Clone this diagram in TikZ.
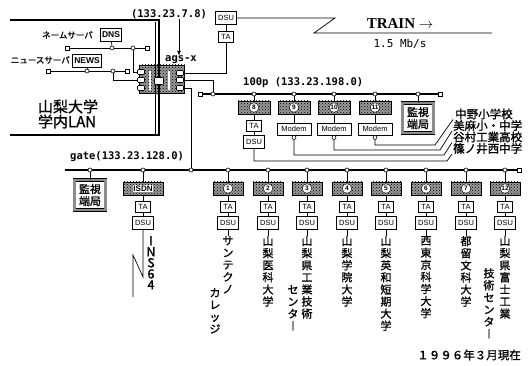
\documentclass[tikz,border=0pt]{standalone}
\usepackage{fontspec}
\setmainfont{Liberation Sans}
\newfontfamily\cjk[FakeBold=1.2]{Noto Sans CJK JP}
\newfontfamily\mono{DejaVu Sans Mono}
\newfontfamily\serifb{Liberation Serif}
\usepackage{tikz}
\usetikzlibrary{patterns, arrows.meta}

\begin{document}
\begin{tikzpicture}[x=1pt, y=-1pt,
    box/.style={draw, fill=white, line width=0.7pt, inner sep=0pt, font=\fontsize{7.5}{8}\selectfont},
    dsu/.style={box, minimum width=21pt, minimum height=13pt},
    ta/.style={box, minimum width=15pt, minimum height=11pt},
    modem/.style={box, minimum width=34pt, minimum height=12pt},
    srv/.style={box, line width=1pt, font=\bfseries\fontsize{8.5}{9}\selectfont, minimum height=13pt, inner xsep=2pt},
    hbox/.style={draw, line width=0.8pt, preaction={fill=black!40}, pattern=crosshatch dots, minimum width=30pt, minimum height=13pt, inner sep=0pt},
    cnum/.style={circle, draw, fill=white, inner sep=0pt, minimum size=9.5pt, font=\bfseries\fontsize{6.5}{7}\selectfont},
    mon/.style={draw, double=black!45, double distance=2.5pt, line width=0.6pt, fill=white, align=center, inner sep=1pt, minimum width=31pt, minimum height=30pt, font=\cjk\fontsize{11}{12}\selectfont},
    jn/.style={circle, draw, fill=white, inner sep=0pt, minimum size=4pt, line width=0.6pt},
    term/.style={rectangle, draw, fill=white, inner sep=0pt, minimum size=4pt, line width=0.6pt},
    port/.style={rectangle, rounded corners=1pt, draw, fill=white, inner sep=0pt, minimum width=7pt, minimum height=5pt, line width=0.6pt},
    bus/.style={line width=1.8pt},
    wire/.style={line width=0.7pt},
    addr/.style={font=\mono\bfseries\fontsize{10.5}{11}\selectfont, inner sep=0pt},
    vtext/.style={font=\cjk\fontsize{11}{12.1}\selectfont, align=center, inner sep=0pt, anchor=north},
    school/.style={font=\cjk\fontsize{11.5}{12}\selectfont, inner sep=0pt, anchor=west}
]
    \useasboundingbox (0,0) rectangle (530,366);

    % campus LAN
    \node[hbox, minimum width=45pt, minimum height=28pt] at (162,79) (rtr) {};
    \draw[white, line width=1.2pt] (150,71) -- (150,90) (169,71) -- (169,90);
    \draw[line width=1.1pt] (10,20) -- (159,20) -- (159,135) -- (10,135);
    \draw[line width=0.6pt] (155,22) -- (155,135);
    \node[port, minimum width=9pt, minimum height=7pt] at (159,81) (rc) {};
    \node[port] at (141,72) (rl1) {};
    \node[port] at (141,80) (rl2) {};
    \node[port] at (141,88) (rl3) {};
    \node[port] at (180,73) (rr1) {};
    \node[port] at (180,80) (rr2) {};
    \node[port] at (180,88) (rr3) {};
    \node[font=\cjk\fontsize{15}{15}\selectfont, align=left, inner sep=0pt] at (68,114) (lan) {山梨大学\\学内LAN};

    \draw[wire] (67,48) -- (147,48);
    \node[term] at (67,48) (d0) {};
    \node[term] at (147,48) (d3) {};
    \node[jn] at (112,48) (d1) {};
    \node[jn] at (133,48) (d2) {};
    \node[srv] at (111,35) (dns) {DNS};
    \node[font=\cjk\fontsize{8.5}{9}\selectfont, anchor=east, inner sep=0pt] at (93,35) (dnsl) {ネームサーバ};
    \draw[wire] (d1) -- (dns);
    \draw[wire] (d2) |- (rl1);

    \draw[wire] (48,71) -- (127,71);
    \node[term] at (48,71) (n0) {};
    \node[term] at (127,71) (n3) {};
    \node[jn] at (87,71) (n1) {};
    \node[jn] at (113,71) (n2) {};
    \node[srv] at (87,61) (news) {NEWS};
    \node[font=\cjk\fontsize{8.5}{9}\selectfont, anchor=east, inner sep=0pt] at (70,60) (newsl) {ニュースサーバ};
    \draw[wire] (n1) -- (news);
    \draw[wire] (n2) |- (rl2);

    % external line
    \node[addr] at (169,14) (ip7) {(133.23.7.8)};
    \node[addr] at (181,60) (ags) {ags-x};
    \draw[wire, -{Latex[length=5pt, width=4pt]}] ([xshift=-2pt]ip7.south -| ags.north) -- ([xshift=-2pt]ags.north);
    \node[dsu] at (226,18) (dsuT) {DSU};
    \node[ta] at (226,37) (taT) {TA};
    \draw[wire] (dsuT) -- (taT);
    \draw[wire] (taT) |- (rr1);
    \coordinate (trEnd) at (492,33);
    \draw[wire] (dsuT.east) -- (335,18) -- (314,33) -- (trEnd);
    \node[font=\serifb\bfseries\fontsize{15}{15}\selectfont, anchor=south, inner sep=1pt] at (400,30) (train) {TRAIN $\rightarrow$};
    \node[font=\mono\fontsize{11}{11}\selectfont, inner sep=0pt] at (400,44) (rate) {1.5 Mb/s};

    % 100p network
    \draw[bus] (200,94) -- (440,94);
    \node[term] at (200,94) (t1) {};
    \node[term] at (440,94) (t2) {};
    \node[jn] at (213,94) (p0) {};
    \draw[wire] (rr2) -| (p0);
    \node[addr, anchor=west] at (243,83) (net100) {100p (133.23.198.0)};

    \node[jn] at (254,94) (p8) {};
    \node[jn] at (294,94) (p9) {};
    \node[jn] at (334,94) (p10) {};
    \node[jn] at (375,94) (p11) {};
    \node[jn] at (418,94) (pm) {};
    \node[hbox, minimum width=32pt] at (254,107.5) (h8) {};
    \node[hbox, minimum width=32pt] at (294,107.5) (h9) {};
    \node[hbox, minimum width=32pt] at (334,107.5) (h10) {};
    \node[hbox, minimum width=32pt] at (375,107.5) (h11) {};
    \node[cnum] at (h8) {8};
    \node[cnum] at (h9) {9};
    \node[cnum] at (h10) {10};
    \node[cnum] at (h11) {11};
    \node[mon] at (418,118) (mon1) {監視\\端局};
    \node[ta] at (254,126) (ta8) {TA};
    \node[dsu] at (254,142) (dsu8) {DSU};
    \node[modem] at (294,129) (m9) {Modem};
    \node[modem] at (334,129) (m10) {Modem};
    \node[modem] at (375,129) (m11) {Modem};
    \node[jn] at (294,137.5) (q9) {};
    \node[jn] at (334,137.5) (q10) {};
    \node[jn] at (375,137.5) (q11) {};
    \draw[wire] (p8) -- (h8) -- (ta8) -- (dsu8);
    \draw[wire] (p9) -- (h9) -- (m9);
    \draw[wire] (p10) -- (h10) -- (m10);
    \draw[wire] (p11) -- (h11) -- (m11);
    \draw[wire] (pm) -- (mon1);

    \node[school] at (455,114) (sc1) {中野小学校};
    \node[school] at (453,125.5) (sc2) {美麻小・中学};
    \node[school] at (453,137) (sc3) {谷村工業高校};
    \node[school] at (453,148.5) (sc4) {篠ノ井西中学};
    \draw[wire] (q11) |- (435,145) -- ([xshift=-2pt]sc1.south west);
    \draw[wire] (q10) |- (440,150) -- ([xshift=-1pt]sc2.south west);
    \draw[wire] (q9) |- (444,155) -- ([xshift=-1pt]sc3.south west);
    \draw[wire] (dsu8) |- (447,161) -- ([xshift=-1pt]sc4.south west);

    % gate network
    \draw[bus] (65,170) -- (519,170);
    \node[term] at (519,170) (t3) {};
    \node[addr, anchor=west] at (70,157) (gate) {gate(133.23.128.0)};
    \node[jn] at (191,170) (g0) {};
    \draw[wire] (rr3) -| (g0);

    \node[jn] at (90,170) (gm) {};
    \node[mon] at (90,195) (mon2) {監視\\端局};
    \draw[wire] (gm) -- (mon2);

    \node[jn] at (143,170) (gi) {};
    \node[hbox, minimum width=40pt] at (143,188.5) (isdn) {};
    \node[fill=white, inner sep=0.6pt, font=\bfseries\fontsize{8}{8}\selectfont] at (isdn) {ISDN};
    \node[ta] at (143,206.5) (taI) {TA};
    \node[dsu] at (143,222.5) (dsuI) {DSU};
    \draw[wire] (gi) -- (isdn) -- (taI) -- (dsuI);
    \coordinate (insEnd) at (133,297);
    \draw[wire] (dsuI) -- (143,277) -- (133,255) -- (insEnd);
    \node[vtext, font=\cjk\fontsize{12.5}{11}\selectfont] at (151,236) (ins) {I\\N\\S\\6\\4};

    \node[jn] at (228,170) (g1) {};
    \node[jn] at (268,170) (g2) {};
    \node[jn] at (307,170) (g3) {};
    \node[jn] at (347,170) (g4) {};
    \node[jn] at (386,170) (g5) {};
    \node[jn] at (426,170) (g6) {};
    \node[jn] at (466,170) (g7) {};
    \node[jn] at (505,170) (g12) {};
    \node[hbox] at (228,188.5) (h1) {};
    \node[hbox] at (268,188.5) (h2) {};
    \node[hbox] at (307,188.5) (h3) {};
    \node[hbox] at (347,188.5) (h4) {};
    \node[hbox] at (386,188.5) (h5) {};
    \node[hbox] at (426,188.5) (h6) {};
    \node[hbox] at (466,188.5) (h7) {};
    \node[hbox] at (505,188.5) (h12) {};
    \node[cnum] at (h1) {1};
    \node[cnum] at (h2) {2};
    \node[cnum] at (h3) {3};
    \node[cnum] at (h4) {4};
    \node[cnum] at (h5) {5};
    \node[cnum] at (h6) {6};
    \node[cnum] at (h7) {7};
    \node[cnum] at (h12) {12};
    \node[ta] at (228,206.5) (ta1) {TA};
    \node[ta] at (268,206.5) (ta2) {TA};
    \node[ta] at (307,206.5) (ta3) {TA};
    \node[ta] at (347,206.5) (ta4) {TA};
    \node[ta] at (386,206.5) (ta5) {TA};
    \node[ta] at (426,206.5) (ta6) {TA};
    \node[ta] at (466,206.5) (ta7) {TA};
    \node[ta] at (505,206.5) (ta12) {TA};
    \node[dsu] at (228,222.5) (dsu1) {DSU};
    \node[dsu] at (268,222.5) (dsu2) {DSU};
    \node[dsu] at (307,222.5) (dsu3) {DSU};
    \node[dsu] at (347,222.5) (dsu4) {DSU};
    \node[dsu] at (386,222.5) (dsu5) {DSU};
    \node[dsu] at (426,222.5) (dsu6) {DSU};
    \node[dsu] at (466,222.5) (dsu7) {DSU};
    \node[dsu] at (505,222.5) (dsu12) {DSU};

    \node[vtext] at (228,236) (v1) {サ\\ン\\テ\\ク\\ノ};
    \node[vtext] at (215,288) (v1b) {カ\\レ\\ッ\\ジ};
    \node[vtext] at (268,236) (v2) {山\\梨\\医\\科\\大\\学};
    \node[vtext] at (307,236) (v3) {山\\梨\\県\\工\\業\\技\\術};
    \node[vtext] at (293,285) (v3b) {セ\\ン\\タ\\︱};
    \node[vtext] at (347,236) (v4) {山\\梨\\学\\院\\大\\学};
    \node[vtext] at (386,236) (v5) {山\\梨\\英\\和\\短\\期\\大\\学};
    \node[vtext] at (426,236) (v6) {西\\東\\京\\科\\学\\大\\学};
    \node[vtext] at (466,236) (v7) {都\\留\\文\\科\\大\\学};
    \node[vtext] at (505,236) (v12) {山\\梨\\県\\富\\士\\工\\業};
    \node[vtext] at (489,268) (v12b) {技\\術\\セ\\ン\\タ\\︱};

    \draw[wire] (g1) -- (h1) -- (ta1) -- (dsu1) -- (v1);
    \draw[wire] (g2) -- (h2) -- (ta2) -- (dsu2) -- (v2);
    \draw[wire] (g3) -- (h3) -- (ta3) -- (dsu3) -- (v3);
    \draw[wire] (g4) -- (h4) -- (ta4) -- (dsu4) -- (v4);
    \draw[wire] (g5) -- (h5) -- (ta5) -- (dsu5) -- (v5);
    \draw[wire] (g6) -- (h6) -- (ta6) -- (dsu6) -- (v6);
    \draw[wire] (g7) -- (h7) -- (ta7) -- (dsu7) -- (v7);
    \draw[wire] (g12) -- (h12) -- (ta12) -- (dsu12) -- (v12);

    \node[font=\cjk\fontsize{11.5}{12}\selectfont, anchor=east, inner sep=0pt] at (521,355) (date) {１９９６年３月現在};
\end{tikzpicture}
\end{document}
